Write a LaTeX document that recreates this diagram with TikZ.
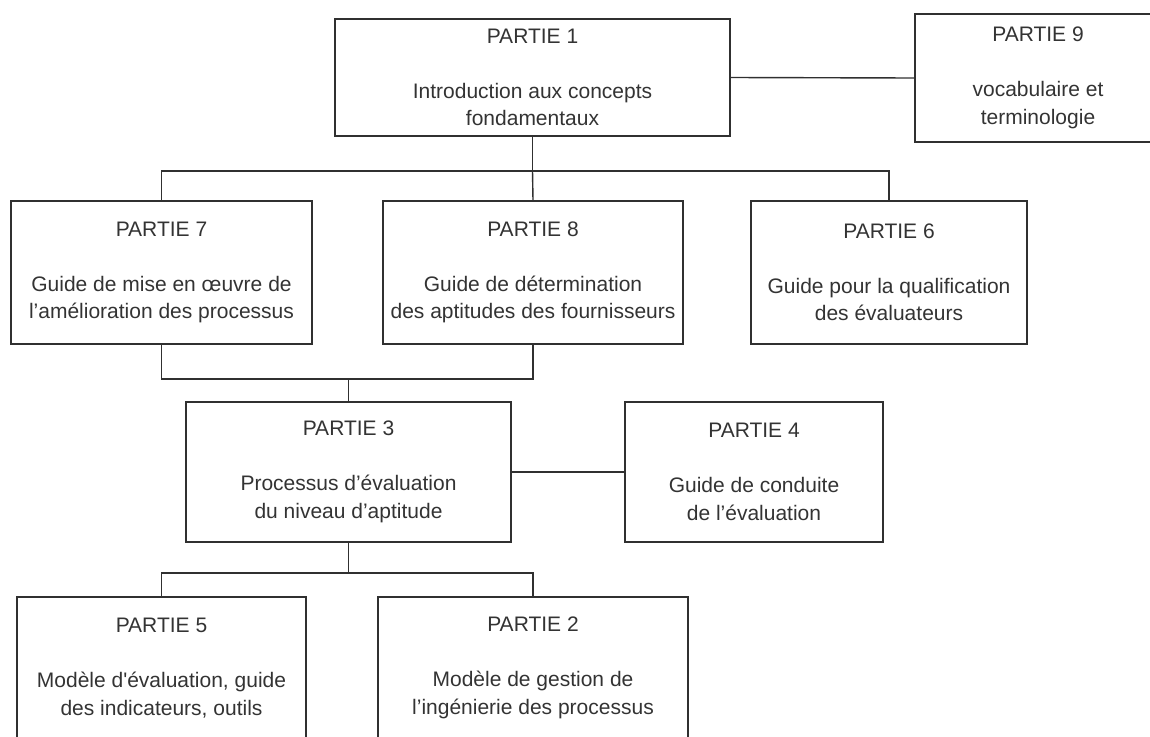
\documentclass[tikz,border=0pt]{standalone}
\usepackage{fontspec}
\setmainfont{Liberation Sans}
\definecolor{ink}{HTML}{303030}
\definecolor{txt}{HTML}{333333}
\begin{document}
\begin{tikzpicture}[x=1pt,y=-1pt,
  part/.style={draw=ink, line width=1.4pt, rectangle, inner sep=0pt,
    align=center, text=txt, font=\fontsize{21}{27.5}\selectfont},
  link/.style={draw=ink, line width=1.4pt}]
\useasboundingbox (0,0) rectangle (1150,736);
\clip (0,0) rectangle (1150,736);

% top row
\node[part, minimum width=395pt, minimum height=117pt] (p1) at (532.5,77.5)
  {PARTIE 1\\[27.5pt]Introduction aux concepts\\fondamentaux};
\node[part, minimum width=246pt, minimum height=128pt] (p9) at (1038,78)
  {PARTIE 9\\[27.5pt]vocabulaire et\\terminologie};

% second row
\node[part, minimum width=301pt, minimum height=143pt] (p7) at (161.5,272.5)
  {PARTIE 7\\[27.5pt]Guide de mise en œuvre de\\l’amélioration des processus};
\node[part, minimum width=300pt, minimum height=143pt] (p8) at (533,272.5)
  {PARTIE 8\\[27.5pt]Guide de détermination\\des aptitudes des fournisseurs};
\node[part, minimum width=276pt, minimum height=143pt] (p6) at (889,272.5)
  {PARTIE 6\\[27.5pt]Guide pour la qualification\\des évaluateurs};

% third row
\node[part, minimum width=325pt, minimum height=140pt] (p3) at (348.5,472)
  {PARTIE 3\\[27.5pt]Processus d’évaluation\\du niveau d’aptitude};
\node[part, minimum width=258pt, minimum height=140pt] (p4) at (754,472)
  {PARTIE 4\\[27.5pt]Guide de conduite\\de l’évaluation};

% bottom row
\node[part, minimum width=289pt, minimum height=142pt] (p5) at (161.5,668)
  {PARTIE 5\\[27.5pt]Modèle d\textquotesingle évaluation, guide\\des indicateurs, outils};
\node[part, minimum width=310pt, minimum height=142pt] (p2) at (533,668)
  {PARTIE 2\\[27.5pt]Modèle de gestion de\\l’ingénierie des processus};

% junctions of the buses
\coordinate (j1) at (532.5,171);
\coordinate (j2) at (348.5,379);
\coordinate (j3) at (348.5,573);

% connectors
\draw[link] (p1.east) -- (p9.west);
\draw[link] (p1.south) -- (j1);
\draw[link] (p7.north) |- (j1) -| (p6.north);
\draw[link] (j1) -- (p8.north);
\draw[link] (p7.south) |- (j2) -| (p8.south);
\draw[link] (j2) -- (p3.north);
\draw[link] (p3.east) -- (p4.west);
\draw[link] (p3.south) -- (j3);
\draw[link] (p5.north) |- (j3) -| (p2.north);
\end{tikzpicture}
\end{document}
